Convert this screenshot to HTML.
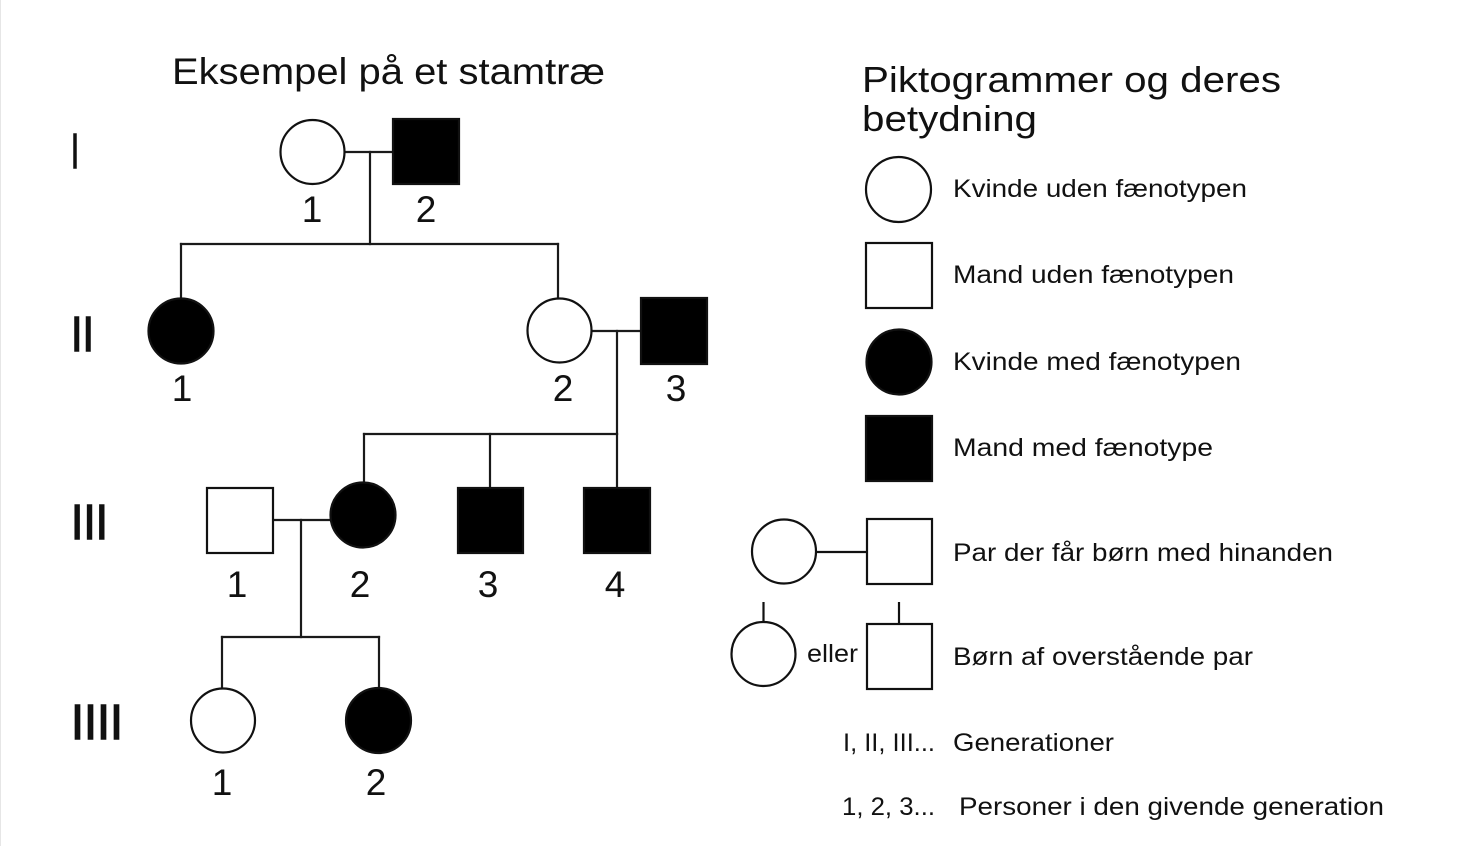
<!DOCTYPE html>
<html>
<head>
<meta charset="utf-8">
<style>
  html, body { margin: 0; padding: 0; background: #ffffff; }
  body { width: 1472px; height: 846px; overflow: hidden; }
  svg { display: block; }
  text { font-family: "Liberation Sans", "DejaVu Sans", sans-serif; fill: #111; }
</style>
</head>
<body>
<svg width="1472" height="846" viewBox="0 0 1472 846" xmlns="http://www.w3.org/2000/svg">
  <rect x="0" y="0" width="1472" height="846" fill="#ffffff"/>
  <line x1="0.5" y1="0" x2="0.5" y2="846" stroke="#e6e6e6" stroke-width="1"/>

  <!-- Titles -->
  <text x="172" y="84" font-size="37" textLength="433" lengthAdjust="spacingAndGlyphs">Eksempel på et stamtræ</text>
  <text x="862" y="92" font-size="36" textLength="419" lengthAdjust="spacingAndGlyphs">Piktogrammer og deres</text>
  <text x="862" y="131" font-size="36" textLength="175" lengthAdjust="spacingAndGlyphs">betydning</text>

  <!-- Generation numerals -->
  <g font-size="49" stroke="#111" stroke-width="1.4">
    <text x="71" y="168" textLength="8" lengthAdjust="spacingAndGlyphs">I</text>
    <text x="71" y="351" textLength="23" lengthAdjust="spacingAndGlyphs">II</text>
    <text x="71" y="539" textLength="37" lengthAdjust="spacingAndGlyphs">III</text>
    <text x="71" y="739" textLength="52" lengthAdjust="spacingAndGlyphs">IIII</text>
  </g>

  <!-- Connector lines -->
  <g stroke="#1a1a1a" stroke-width="2.2" fill="none" stroke-linecap="square">
    <line x1="345" y1="152" x2="393" y2="152"/>
    <line x1="370" y1="152" x2="370" y2="244"/>
    <line x1="181" y1="244" x2="558" y2="244"/>
    <line x1="181" y1="244" x2="181" y2="298"/>
    <line x1="558" y1="244" x2="558" y2="298"/>
    <line x1="592" y1="331" x2="641" y2="331"/>
    <line x1="617" y1="331" x2="617" y2="434"/>
    <line x1="364" y1="434" x2="617" y2="434"/>
    <line x1="364" y1="434" x2="364" y2="482"/>
    <line x1="490" y1="434" x2="490" y2="488"/>
    <line x1="617" y1="434" x2="617" y2="488"/>
    <line x1="273" y1="520" x2="330" y2="520"/>
    <line x1="301" y1="520" x2="301" y2="637"/>
    <line x1="222" y1="637" x2="379" y2="637"/>
    <line x1="222" y1="637" x2="222" y2="688"/>
    <line x1="379" y1="637" x2="379" y2="688"/>
  </g>

  <!-- Pedigree shapes -->
  <g stroke="#111" stroke-width="2.2">
    <circle cx="312.5" cy="152" r="32" fill="#fff"/>
    <rect x="393" y="119" width="66" height="65" fill="#000"/>

    <circle cx="181" cy="331" r="32.5" fill="#000"/>
    <circle cx="559.5" cy="330.5" r="32" fill="#fff"/>
    <rect x="641" y="298" width="66" height="66" fill="#000"/>

    <rect x="207" y="488" width="66" height="65" fill="#fff"/>
    <circle cx="363" cy="515" r="32.5" fill="#000"/>
    <rect x="458" y="488" width="65" height="65" fill="#000"/>
    <rect x="584" y="488" width="66" height="65" fill="#000"/>

    <circle cx="223" cy="720.5" r="32" fill="#fff"/>
    <circle cx="378.5" cy="720.5" r="32.5" fill="#000"/>
  </g>

  <!-- Person numbers -->
  <g font-size="37" text-anchor="middle">
    <text x="312" y="222">1</text>
    <text x="426" y="222">2</text>
    <text x="182" y="401">1</text>
    <text x="563" y="401">2</text>
    <text x="676" y="401">3</text>
    <text x="237" y="597">1</text>
    <text x="360" y="597">2</text>
    <text x="488" y="597">3</text>
    <text x="615" y="597">4</text>
    <text x="222" y="795">1</text>
    <text x="376" y="795">2</text>
  </g>

  <!-- Legend shapes -->
  <g stroke="#111" stroke-width="2.2">
    <circle cx="898.5" cy="189.5" r="32.5" fill="#fff"/>
    <rect x="866" y="243" width="66" height="65" fill="#fff"/>
    <circle cx="899" cy="362" r="32.5" fill="#000"/>
    <rect x="866" y="416" width="66" height="65" fill="#000"/>

    <circle cx="784" cy="551.5" r="32" fill="#fff"/>
    <line x1="816" y1="552" x2="866" y2="552"/>
    <rect x="867" y="519" width="65" height="65" fill="#fff"/>

    <line x1="763.5" y1="602" x2="763.5" y2="622"/>
    <circle cx="763.5" cy="654" r="32" fill="#fff"/>
    <line x1="899" y1="602" x2="899" y2="624"/>
    <rect x="867" y="624" width="65" height="65" fill="#fff"/>
  </g>

  <!-- Legend text -->
  <g font-size="25">
    <text x="953" y="197" textLength="294" lengthAdjust="spacingAndGlyphs">Kvinde uden fænotypen</text>
    <text x="953" y="283" textLength="281" lengthAdjust="spacingAndGlyphs">Mand uden fænotypen</text>
    <text x="953" y="370" textLength="288" lengthAdjust="spacingAndGlyphs">Kvinde med fænotypen</text>
    <text x="953" y="456" textLength="260" lengthAdjust="spacingAndGlyphs">Mand med fænotype</text>
    <text x="953" y="561" textLength="380" lengthAdjust="spacingAndGlyphs">Par der får børn med hinanden</text>
    <text x="807" y="662" textLength="51" lengthAdjust="spacingAndGlyphs">eller</text>
    <text x="953" y="665" textLength="300" lengthAdjust="spacingAndGlyphs">Børn af overstående par</text>
    <text x="843" y="751" textLength="92" lengthAdjust="spacingAndGlyphs">I, II, III...</text>
    <text x="953" y="751" textLength="161" lengthAdjust="spacingAndGlyphs">Generationer</text>
    <text x="842" y="815" textLength="93" lengthAdjust="spacingAndGlyphs">1, 2, 3...</text>
    <text x="959" y="815" textLength="425" lengthAdjust="spacingAndGlyphs">Personer i den givende generation</text>
  </g>
</svg>
</body>
</html>
